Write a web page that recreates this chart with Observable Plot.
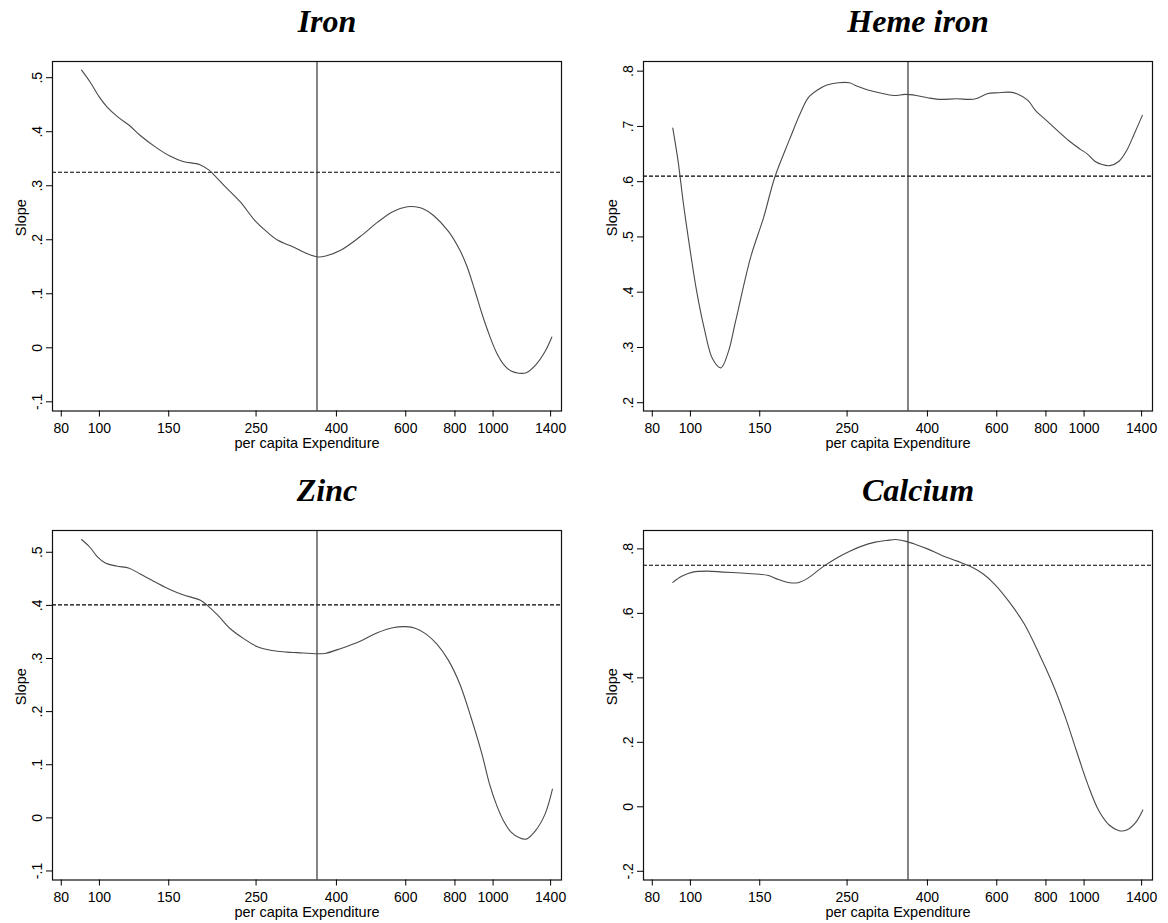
<!DOCTYPE html>
<html>
<head>
<meta charset="utf-8">
<script src="https://cdn.jsdelivr.net/npm/d3@7"></script>
<script src="https://cdn.jsdelivr.net/npm/@observablehq/plot@0.6"></script>
<style>
  html, body { margin: 0; padding: 0; background: #fff; }
  #chart { position: relative; width: 1168px; height: 923px; background: #fff; }
  .panel { position: absolute; }
</style>
</head>
<body>
<div id="chart"></div>
<script>
// ---- shared axis data ----
const xTicks = [80, 100, 150, 250, 400, 600, 800, 1000, 1400];
const xDomain = [76, 1492];
const cutoff = 357;            // vertical reference line (per capita expenditure)
const xLabel = "per capita Expenditure";
const yLabel = "Slope";

// ---- Iron ----
const ironX = [90.1, 94.7, 100, 104.5, 111.5, 119, 127, 138.6, 151, 163, 180, 190, 196, 209, 228, 248, 266, 284, 310, 338, 360, 376, 411, 458, 510, 556, 606, 634, 662, 706, 771, 823, 859, 898, 937, 979, 1022, 1067, 1111, 1163, 1214, 1282, 1355, 1410];
const ironY = [0.514, 0.492, 0.464, 0.446, 0.427, 0.412, 0.393, 0.372, 0.355, 0.345, 0.339, 0.329, 0.319, 0.298, 0.270, 0.236, 0.215, 0.199, 0.187, 0.174, 0.168, 0.170, 0.181, 0.205, 0.233, 0.252, 0.261, 0.261, 0.258, 0.245, 0.215, 0.181, 0.150, 0.107, 0.063, 0.023, -0.010, -0.032, -0.043, -0.047, -0.046, -0.032, -0.007, 0.020];
const ironMean = 0.325;
const ironTicks = [-0.1, 0, 0.1, 0.2, 0.3, 0.4, 0.5];
const ironDomain = [-0.117, 0.530];

// ---- Heme iron ----
const hemeX = [90.2, 93, 96, 99.3, 103.7, 108.3, 113.9, 119.5, 124.7, 130.3, 142.2, 153.4, 163.8, 178.7, 190.8, 199.3, 210.4, 222.2, 237.3, 253.3, 264.6, 282.4, 301.5, 328.9, 351, 374.7, 400, 427, 476, 508, 531, 567, 605, 646, 675, 720, 752, 802, 857, 915, 977, 1020, 1065, 1111, 1162, 1227, 1282, 1340, 1406];
const hemeY = [0.697, 0.638, 0.560, 0.487, 0.402, 0.336, 0.279, 0.263, 0.291, 0.348, 0.463, 0.535, 0.608, 0.677, 0.726, 0.752, 0.766, 0.775, 0.779, 0.779, 0.773, 0.766, 0.761, 0.756, 0.758, 0.756, 0.752, 0.749, 0.750, 0.749, 0.750, 0.759, 0.761, 0.762, 0.759, 0.747, 0.729, 0.711, 0.692, 0.674, 0.659, 0.650, 0.637, 0.631, 0.629, 0.637, 0.656, 0.686, 0.720];
const hemeMean = 0.610;
const hemeTicks = [0.2, 0.3, 0.4, 0.5, 0.6, 0.7, 0.8];
const hemeDomain = [0.185, 0.8175];

// ---- Zinc ----
const zincX = [90.1, 94.7, 98.7, 103.5, 110.5, 119, 127, 138.6, 151, 163, 180, 188, 200, 215, 233, 252, 274, 300, 318, 357, 376, 411, 458, 510, 556, 601, 634, 676, 720, 771, 823, 879, 937, 979, 1022, 1067, 1111, 1163, 1214, 1282, 1355, 1415];
const zincY = [0.524, 0.509, 0.492, 0.480, 0.474, 0.470, 0.459, 0.444, 0.430, 0.420, 0.410, 0.400, 0.381, 0.356, 0.337, 0.322, 0.315, 0.312, 0.311, 0.309, 0.310, 0.319, 0.332, 0.349, 0.358, 0.360, 0.357, 0.346, 0.327, 0.296, 0.252, 0.189, 0.120, 0.064, 0.023, -0.008, -0.027, -0.037, -0.040, -0.024, 0.007, 0.054];
const zincMean = 0.401;
const zincTicks = [-0.1, 0, 0.1, 0.2, 0.3, 0.4, 0.5];
const zincDomain = [-0.117, 0.541];

// ---- Calcium ----
const calcX = [90.2, 95, 101.4, 110.7, 120.8, 134.7, 146.9, 156.9, 167.4, 178.8, 188.7, 199.3, 217.4, 237.2, 253.2, 270.3, 295, 315, 332.5, 351, 374.7, 400, 436.6, 476.2, 519.6, 554.5, 592, 646, 705, 769, 839, 896, 956, 1021, 1090, 1162, 1227, 1282, 1353, 1410];
const calcY = [0.696, 0.715, 0.728, 0.731, 0.728, 0.725, 0.722, 0.718, 0.705, 0.695, 0.696, 0.710, 0.745, 0.774, 0.792, 0.807, 0.821, 0.826, 0.829, 0.824, 0.813, 0.800, 0.779, 0.762, 0.743, 0.722, 0.691, 0.635, 0.567, 0.474, 0.371, 0.278, 0.174, 0.071, -0.012, -0.058, -0.074, -0.072, -0.048, -0.010];
const calcMean = 0.749;
const calcTicks = [-0.2, 0, 0.2, 0.4, 0.6, 0.8];
const calcDomain = [-0.227, 0.857];

// ---- build panels ----
const stataFmt = d => d === 0 ? "0" : String(+d.toFixed(2)).replace(/^(-?)0\./, "$1.");

const panels = [
  {title: "Iron", xs: ironX, ys: ironY, mean: ironMean, ticks: ironTicks, domain: ironDomain, left: 0, top: 0, ml: 52, mr: 23},
  {title: "Heme iron", xs: hemeX, ys: hemeY, mean: hemeMean, ticks: hemeTicks, domain: hemeDomain, left: 584, top: 0, ml: 59, mr: 16},
  {title: "Zinc", xs: zincX, ys: zincY, mean: zincMean, ticks: zincTicks, domain: zincDomain, left: 0, top: 469, ml: 52, mr: 23},
  {title: "Calcium", xs: calcX, ys: calcY, mean: calcMean, ticks: calcTicks, domain: calcDomain, left: 584, top: 469, ml: 59, mr: 16}
];

const sansFont = "'Liberation Sans', Arial, Helvetica, sans-serif";
const chart = document.getElementById("chart");
for (const p of panels) {
  const data = p.xs.map((x, i) => ({x, y: p.ys[i]}));
  const plot = Plot.plot({
    width: 584,
    height: 454,
    marginTop: 61,
    marginBottom: 43.5,
    marginLeft: p.ml,
    marginRight: p.mr,
    style: {fontFamily: sansFont, fontSize: "14px", color: "#000", background: "#fff", overflow: "visible"},
    x: {type: "log", domain: xDomain},
    y: {domain: p.domain},
    marks: [
      Plot.ruleY([p.mean], {stroke: "#000", strokeWidth: 1.1, strokeDasharray: "4,2"}),
      Plot.ruleX([cutoff], {stroke: "#333", strokeWidth: 1.2}),
      Plot.line(data, {x: "x", y: "y", stroke: "#4a4a4a", strokeWidth: 1.1, curve: "catmull-rom"}),
      Plot.frame({stroke: "#111", strokeWidth: 1.2}),
      Plot.axisX({ticks: xTicks, tickFormat: d => String(d), tickSize: 6, tickPadding: 6, fontSize: 14, label: null}),
      Plot.axisY({ticks: p.ticks, tickFormat: stataFmt, tickSize: 6, tickRotate: -90, tickPadding: 5, fontSize: 14, label: null}),
      Plot.text([xLabel], {frameAnchor: "bottom", dy: 37, lineAnchor: "bottom", text: d => d, fontSize: 14.5}),
      Plot.text([yLabel], {frameAnchor: "left", dx: -27, rotate: -90, lineAnchor: "bottom", text: d => d, fontSize: 14.5}),
      Plot.text([p.title], {frameAnchor: "top", dx: 20, dy: -30, lineAnchor: "bottom", text: d => d, fontSize: 32, fontWeight: "bold", fontStyle: "italic", fontFamily: "'Liberation Serif', 'Times New Roman', serif"})
    ]
  });
  const wrap = document.createElement("div");
  wrap.className = "panel";
  wrap.style.left = p.left + "px";
  wrap.style.top = p.top + "px";
  wrap.appendChild(plot);
  chart.appendChild(wrap);
}
</script>
</body>
</html>
